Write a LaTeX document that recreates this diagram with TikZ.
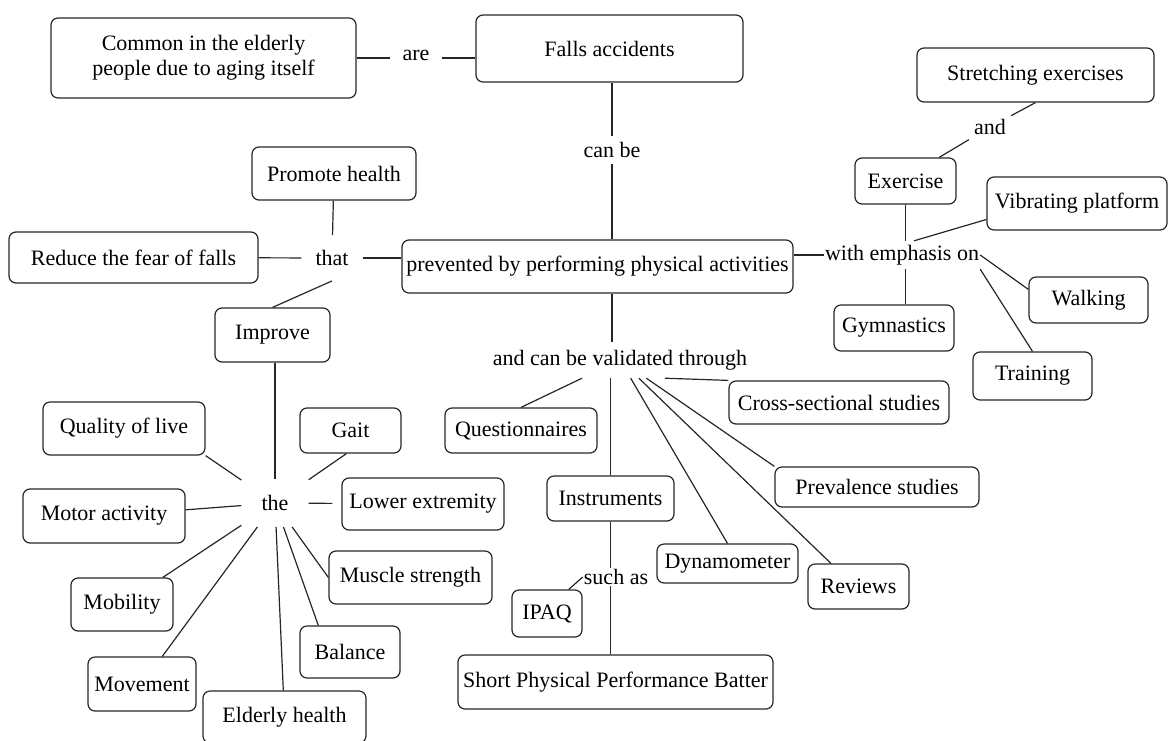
\documentclass[tikz,border=0pt]{standalone}
\usepackage{fontspec}
\setmainfont{Liberation Serif}
\tikzset{
    concept/.style={draw=black!85, line width=1.2pt, rounded corners=7pt, inner xsep=3pt, inner ysep=0pt, align=center},
    link/.style={inner sep=6pt},
    edge/.style={draw=black!85, line width=1.2pt}
}

\begin{document}
\begin{tikzpicture}[
    x=1pt, y=-1pt,
    font=\fontsize{22}{25}\selectfont
]
    \useasboundingbox (0,0) rectangle (1168,740);

    % Top concepts
    \node[concept, minimum width=305pt, minimum height=80pt] (common) at (203.5,58) {Common in the elderly\\people due to aging itself};
    \node[concept, minimum width=267pt, minimum height=67pt] (falls) at (609.5,48.5) {Falls accidents};
    \node[concept, minimum width=391pt, minimum height=53pt] (prevent) at (597.5,266.5) {prevented by performing physical activities};

    % Left branch
    \node[concept, minimum width=164pt, minimum height=53pt] (promote) at (334,173.5) {Promote health};
    \node[concept, minimum width=249pt, minimum height=51pt] (reduce) at (133.5,257.5) {Reduce the fear of falls};
    \node[concept, minimum width=115pt, minimum height=54pt] (improve) at (272.5,335) {Improve};
    \node[concept, minimum width=162pt, minimum height=53pt] (quality) at (124,428.5) {Quality of live};
    \node[concept, minimum width=101pt, minimum height=45pt] (gait) at (350.5,430.5) {Gait};
    \node[concept, minimum width=162pt, minimum height=52pt] (lower) at (423,504) {Lower extremity};
    \node[concept, minimum width=162pt, minimum height=54pt] (motor) at (104,516) {Motor activity};
    \node[concept, minimum width=102pt, minimum height=53pt] (mobility) at (122,604.5) {Mobility};
    \node[concept, minimum width=108pt, minimum height=54pt] (movement) at (142,684) {Movement};
    \node[concept, minimum width=163pt, minimum height=52pt] (elderly) at (284.5,717) {Elderly health};
    \node[concept, minimum width=100pt, minimum height=52pt] (balance) at (350,652) {Balance};
    \node[concept, minimum width=163pt, minimum height=53pt] (muscle) at (410.5,577.5) {Muscle strength};

    % Validation branch
    \node[concept, minimum width=152pt, minimum height=45pt] (quest) at (521,430.5) {Questionnaires};
    \node[concept, minimum width=220pt, minimum height=43pt] (cross) at (839,402.5) {Cross-sectional studies};
    \node[concept, minimum width=204pt, minimum height=40pt] (prevalence) at (877,487) {Prevalence studies};
    \node[concept, minimum width=127pt, minimum height=45pt] (instr) at (610.5,498.5) {Instruments};
    \node[concept, minimum width=70pt, minimum height=47pt] (ipaq) at (547,613.5) {IPAQ};
    \node[concept, minimum width=315pt, minimum height=54pt] (spbb) at (615.5,682) {Short Physical Performance Batter};
    \node[concept, minimum width=141pt, minimum height=39pt] (dyna) at (727.5,563.5) {Dynamometer};
    \node[concept, minimum width=101pt, minimum height=45pt] (reviews) at (858.5,586.5) {Reviews};

    % Right branch
    \node[concept, minimum width=237pt, minimum height=54pt] (stretch) at (1035.5,75) {Stretching exercises};
    \node[concept, minimum width=101pt, minimum height=46pt] (exercise) at (905.5,181) {Exercise};
    \node[concept, minimum width=180pt, minimum height=53pt] (vibr) at (1077,203.5) {Vibrating platform};
    \node[concept, minimum width=119pt, minimum height=46pt] (walking) at (1088.5,300) {Walking};
    \node[concept, minimum width=120pt, minimum height=46pt] (gym) at (894,328) {Gymnastics};
    \node[concept, minimum width=119pt, minimum height=48pt] (training) at (1032.5,376) {Training};

    % Linking phrases
    \node[link, inner xsep=12pt] (are) at (416,55) {are};
    \node[link, inner ysep=6pt] (canbe) at (612,150) {can be};
    \node[link, inner xsep=14pt, inner ysep=15pt] (that) at (332,258) {that};
    \node[link, inner xsep=20pt, inner ysep=16pt] (the) at (275,503) {the};
    \node[link, inner sep=8pt] (valid) at (620,360) {and can be validated through};
    \node[link, inner sep=1pt] (suchas) at (616,577) {such as};
    \node[link, inner xsep=1pt, inner ysep=4pt] (with) at (902,255) {with emphasis on};
    \node[link, inner sep=5pt] (andlbl) at (990,127) {and};

    % Main chain
    \draw[edge] (common.east) -- (common.east -| are.west);
    \draw[edge] (are.east |- common.east) -- (falls.west |- common.east);
    \draw[edge] (falls.south -| canbe) -- (canbe.north);
    \draw[edge] (canbe.south) -- (canbe.south |- prevent.north);
    \draw[edge] (prevent.south -| canbe) -- (valid.north -| canbe);

    % that ...
    \draw[edge] (reduce) -- (that);
    \draw[edge] (that) -- (that -| prevent.west);
    \draw[edge] (promote) -- (that);
    \draw[edge] (that.south) -- (improve.north);
    \draw[edge] (improve.south -| the) -- (the.north);

    % the ...
    \foreach \t in {quality.south east, gait.260, motor, mobility, movement, elderly, balance.140, muscle.west} {
        \draw[edge] (the) -- (\t);
    }
    \draw[edge, shorten >=9pt] (the) -- (lower);

    % validated through ...
    \draw[edge] (valid) -- (quest.north);
    \draw[edge] ([xshift=45pt]valid.south) -- (cross.north west);
    \draw[edge] (instr.north) -- (instr.north |- valid.south);
    \foreach \t in {dyna.north, reviews.140, prevalence.north west} {
        \draw[edge] (valid) -- (\t);
    }
    \draw[edge] (instr.south) -- (instr.south |- suchas.north);
    \draw[edge] (suchas.south -| instr) -- (spbb.north -| instr);
    \draw[edge] (suchas.west) -- (ipaq.48);

    % with emphasis on ...
    \draw[edge] (prevent.east |- with.west) -- (with.west);
    \draw[edge] (exercise.south) -- (exercise.south |- with.north);
    \draw[edge] (with.south -| exercise) -- (gym.north -| exercise);
    \draw[edge] ([xshift=12pt]with.north) -- (vibr.190);
    \draw[edge] (with.east) -- (walking.170);
    \draw[edge] (with.south east) -- (training.north);
    \draw[edge] (exercise.35) -- (andlbl);
    \draw[edge] (andlbl) -- (stretch.south);
\end{tikzpicture}
\end{document}
